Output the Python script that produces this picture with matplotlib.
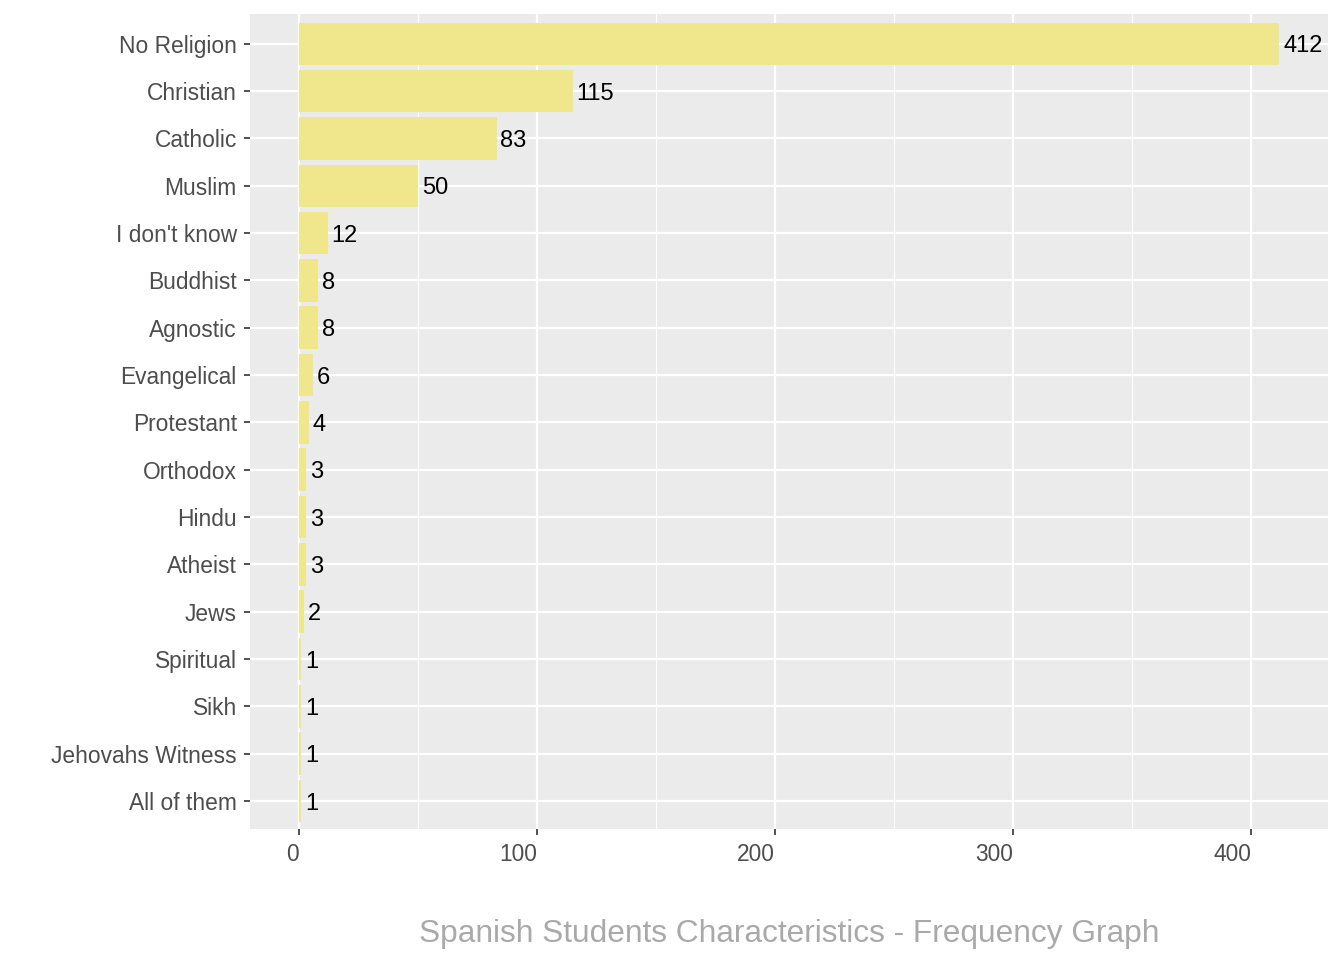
import matplotlib
matplotlib.use("Agg")
import matplotlib.pyplot as plt
from matplotlib.ticker import MultipleLocator

religions = [
    "No Religion", "Christian", "Catholic", "Muslim", "I don't know",
    "Buddhist", "Agnostic", "Evangelical", "Protestant", "Orthodox",
    "Hindu", "Atheist", "Jews", "Spiritual", "Sikh", "Jehovahs Witness",
    "All of them",
]
counts = [412, 115, 83, 50, 12, 8, 8, 6, 4, 3, 3, 3, 2, 1, 1, 1, 1]

plt.rcParams["font.family"] = ["Liberation Sans", "DejaVu Sans"]

fig = plt.figure(figsize=(13.44, 9.6), dpi=100)
ax = fig.add_axes([250 / 1344, 1 - 829 / 960, 1078 / 1344, 815 / 960])
ax.set_facecolor("#EBEBEB")

ypos = list(range(len(religions)))
ax.barh(ypos, counts, height=0.9, color="#F0E68C", zorder=3)
for y, c in zip(ypos, counts):
    ax.text(c + 1.6, y, str(c), va="center_baseline", ha="left", fontsize=17,
            color="black", zorder=4)

ax.set_yticks(ypos)
ax.set_yticklabels(religions)
ax.set_ylim(len(religions) - 0.41, -0.63)
ax.set_xlim(-20.6, 432.4)
ax.xaxis.set_major_locator(MultipleLocator(100))
ax.xaxis.set_minor_locator(MultipleLocator(50))

ax.grid(which="major", color="white", linewidth=1.6, zorder=1)
ax.grid(which="minor", axis="x", color="white", linewidth=0.8, zorder=1)
ax.tick_params(axis="both", which="major", length=4, width=1.2,
               color="#333333", labelcolor="#4D4D4D", labelsize=16.4, pad=5.5)
ax.tick_params(axis="x", which="major", pad=6)
ax.tick_params(axis="x", which="minor", length=0)
for lab in ax.get_xticklabels():
    lab.set_horizontalalignment("right")
for s in ax.spines.values():
    s.set_visible(False)

ax.set_xlabel("Spanish Students Characteristics - Frequency Graph",
              fontsize=22.8, color="#A9A9A9", labelpad=38)

fig.savefig("out.png", dpi=100)
